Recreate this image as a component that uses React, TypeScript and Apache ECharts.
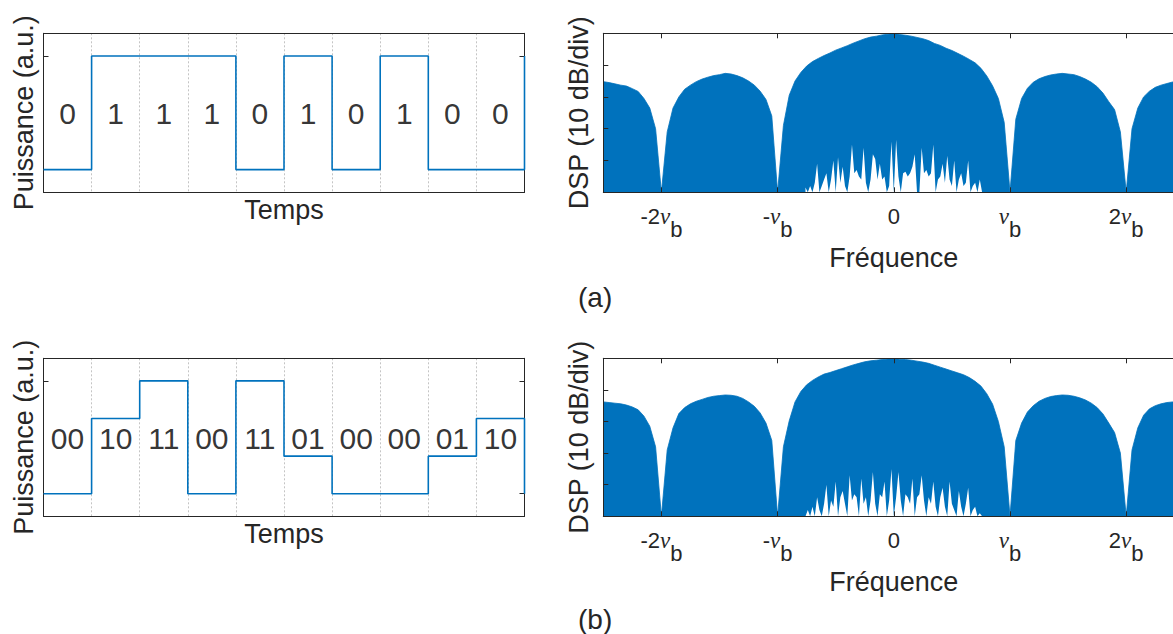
import React, { useEffect, useRef } from 'react';
import * as echarts from 'echarts';

// ---------- data ----------
// (a) OOK: bits and the power level of each bit slot (last entry = next symbol at the right border)
const BITS_A = ['0', '1', '1', '1', '0', '1', '0', '1', '0', '0'];
const LEVELS_A = [0, 1, 1, 1, 0, 1, 0, 1, 0, 0, 1];
// (b) PAM-4: symbols and levels (00=0, 01=1/3, 10=2/3, 11=1)
const SYMBOLS_B = ['00', '10', '11', '00', '11', '01', '00', '00', '01', '10'];
const LEVELS_B = [0, 0.667, 1, 0, 1, 0.333, 0, 0, 0.333, 0.667, 0];

// spectra (dB), upper envelope sampled every 0.05 nu_b from -2.5 nu_b
const FREQ_START = -2.5;
const FREQ_STEP = 0.05;
const UPPER_A = [
  -15.2, -15.5, -15.9, -16.3, -16.6, -17.4, -18.3, -20.5, -23.5, -30,
  -50, -31, -23.5, -20, -17.6, -16.3, -15.2, -14.4, -13.8, -13.3,
  -13.0, -12.6, -12.8, -13.3, -14.0, -15.0, -16.3, -18.2, -20.8, -26,
  -50, -29, -19.5, -15, -12.3, -10.3, -8.9, -7.9, -7.0, -6.2,
  -5.3, -4.6, -3.9, -3.1, -2.4, -1.7, -1.2, -0.9, -0.5, -0.3,
  -0.1, -0.4, -0.6, -0.9, -1.3, -1.7, -2.3, -3.2, -3.8, -4.7,
  -5.4, -6.3, -7.2, -8.2, -9.3, -11.0, -13.4, -16.5, -20.5, -28,
  -50, -27, -20.5, -17.3, -15.4, -14.3, -13.6, -13.1, -12.8, -12.6,
  -12.8, -13.0, -13.6, -14.4, -15.4, -16.8, -18.8, -21.5, -24, -31,
  -50, -30, -23.5, -20, -18.2, -17, -16.3, -15.8, -15.3, -15.1,
  -15.0,
];
const UPPER_B = [
  -13.8, -14.0, -14.2, -14.4, -14.8, -15.4, -16.3, -18.3, -21.5, -28,
  -50, -29, -22, -17.5, -15.6, -14.4, -13.6, -13.0, -12.4, -12.0,
  -11.8, -11.6, -11.7, -12.0, -12.7, -13.8, -15.2, -17.3, -20.5, -26,
  -50, -28, -19.8, -13.8, -10.5, -8.4, -7.0, -5.9, -5.0, -4.5,
  -3.9, -3.3, -2.7, -2.1, -1.6, -1.1, -0.8, -0.6, -0.4, -0.2,
  0, -0.3, -0.4, -0.6, -0.9, -1.2, -1.6, -2.2, -2.8, -3.4,
  -4.0, -4.6, -5.2, -6.1, -7.3, -8.8, -11.2, -14.5, -20, -28,
  -50, -26, -20.5, -17, -15, -13.6, -12.7, -12.1, -11.8, -11.6,
  -11.7, -12.0, -12.5, -13.2, -14.2, -15.6, -17.6, -20.5, -23.5, -30,
  -50, -29, -22, -18, -16, -15, -14.4, -14.0, -13.8, -13.6,
  -13.5,
];
// lower envelope (noise floor "grass") around the carrier, every 0.02 nu_b from -0.76 nu_b
const GRASS_START = -0.76;
const GRASS_STEP = 0.02;
const LOWER_A = [
  -48.5, -50, -48, -50, -47, -41, -50, -48, -46, -44,
  -50, -46, -40, -50, -39, -47, -42, -48, -50, -45,
  -35, -44, -43, -45, -46, -36, -47, -50, -46, -38,
  -39.5, -46, -41, -46, -45, -50, -48, -34, -50, -33.5,
  -45, -50, -44, -43.5, -45, -44, -42, -38, -50, -50,
  -36, -44, -43, -45, -44, -35, -50, -46, -45, -41,
  -47, -38.5, -46, -48, -40, -50, -46, -44, -48, -47,
  -40, -50, -48, -47, -50, -46, -50,
];
const LOWER_B = [
  -50, -48, -50, -47, -50, -44, -48, -50, -46, -40,
  -50, -45, -47, -39, -50, -44, -42, -46, -50, -37,
  -45, -43, -44, -50, -38, -46, -44, -50, -45, -36,
  -46, -50, -43, -44, -39, -50, -45, -35, -50, -44,
  -36, -45, -50, -43, -44, -46, -38, -50, -44, -43,
  -37, -45, -50, -44, -46, -39, -47, -50, -44, -41,
  -47, -50, -39, -46, -48, -50, -42, -47, -50, -46,
  -41, -50, -48, -47, -50, -49, -50,
];
const FREQ_TICKS = [-2, -1, 0, 1, 2];
const FREQ_TICK_LABELS = ['-2νb', '-νb', '0', 'νb', '2νb'];
const LEVEL_TICKS = [0, 1];

// ---------- style / layout ----------
const FONT = '"Liberation Sans", Arial, Helvetica, sans-serif';
const SERIF = '"Liberation Serif", "DejaVu Serif", serif';
const BLUE = '#0072BD';
const AXIS = '#262626';
const GRIDC = '#c4c4c4';
const LEFT_L = 43.5, LEFT_W = 481;
const RIGHT_L = 603.3, RIGHT_W = 581;
const TOP_T = 33.3, TOP_H = 159;
const BOT_T = 358.3, BOT_H = 158;
const LABEL_Y = 0.49;

function freqLabel(v: number): string {
  const idx = FREQ_TICKS.indexOf(Math.round(v));
  const s = idx >= 0 ? FREQ_TICK_LABELS[idx] : '';
  if (s.indexOf('ν') < 0) return `{m|${s}}`;
  const [pre, post] = s.split('ν');
  return (pre ? `{m|${pre}}` : '') + '{nu|ν}' + (post ? `{s|${post}}` : '');
}

function buildOption() {
  const line = { show: true, onZero: false, lineStyle: { color: AXIS, width: 1 } };
  const nameStyle = { fontSize: 27, fontFamily: FONT, color: AXIS };
  const grid: any[] = [];
  const xAxis: any[] = [];
  const yAxis: any[] = [];
  const series: any[] = [];

  const addTimePanel = (top: number, height: number, levels: number[], labels: string[]) => {
    const gi = grid.length;
    grid.push({ left: LEFT_L, top, width: LEFT_W, height, containLabel: false, outerBoundsMode: 'none' });
    const xi = xAxis.length;
    xAxis.push({
      gridIndex: gi, type: 'value', min: 0, max: 10, interval: 1, position: 'bottom',
      axisLine: line, axisTick: { show: false }, axisLabel: { show: false },
      splitLine: { show: true, lineStyle: { color: GRIDC, type: [2, 2], width: 1 } },
      name: 'Temps', nameLocation: 'middle', nameGap: 4.5, nameTextStyle: nameStyle, nameMoveOverlap: false,
    });
    xAxis.push({
      gridIndex: gi, type: 'value', min: 0, max: 10, position: 'top',
      axisLine: line, axisTick: { show: false }, axisLabel: { show: false }, splitLine: { show: false },
    });
    const yi = yAxis.length;
    const yCommon = {
      gridIndex: gi, type: 'value', min: -0.2, max: 1.2,
      axisLine: line,
      axisTick: { show: true, inside: true, length: 5, customValues: LEVEL_TICKS, lineStyle: { color: AXIS } },
      axisLabel: { show: false }, splitLine: { show: false },
    };
    yAxis.push({
      ...yCommon, position: 'left',
      name: 'Puissance (a.u.)', nameLocation: 'middle', nameRotate: 90, nameGap: 6.4,
      nameTextStyle: nameStyle, nameMoveOverlap: false,
    });
    yAxis.push({ ...yCommon, position: 'right' });
    series.push({
      type: 'line', xAxisIndex: xi, yAxisIndex: yi, step: 'end', symbol: 'none', silent: true,
      data: levels.map((v, i) => [i, v]),
      lineStyle: { color: BLUE, width: 1.6 },
    });
    series.push({
      type: 'scatter', xAxisIndex: xi, yAxisIndex: yi, symbolSize: 1, silent: true,
      itemStyle: { color: 'rgba(0,0,0,0)' },
      label: { show: true, position: 'inside', formatter: (p: any) => p.name, fontSize: 30, fontFamily: FONT, color: '#000' },
      data: labels.map((b, i) => ({ name: b, value: [i + 0.5, LABEL_Y] })),
    });
  };

  const addFreqPanel = (top: number, height: number, upper: number[], lower: number[]) => {
    const gi = grid.length;
    grid.push({ left: RIGHT_L, top, width: RIGHT_W, height, containLabel: false, outerBoundsMode: 'none' });
    const xi = xAxis.length;
    const tick = { show: true, inside: true, length: 5, customValues: FREQ_TICKS, lineStyle: { color: AXIS } };
    xAxis.push({
      gridIndex: gi, type: 'value', min: -2.5, max: 2.5, position: 'bottom', z: 10,
      axisLine: line, axisTick: tick,
      axisLabel: {
        show: true, customValues: FREQ_TICKS, margin: 13, formatter: freqLabel,
        verticalAlign: 'top',
        rich: {
          m: { fontSize: 22, fontFamily: FONT, color: AXIS, height: 22, lineHeight: 35, padding: [0, 0, 13, 0] },
          nu: { fontSize: 23, fontFamily: SERIF, fontStyle: 'italic', color: AXIS, height: 22, lineHeight: 35, padding: [0, 0, 13, 0] },
          s: { fontSize: 22, fontFamily: FONT, color: AXIS, height: 22, lineHeight: 35, padding: [13, 0, 0, 0] },
        },
      },
      splitLine: { show: false },
      name: 'Fréquence', nameLocation: 'middle', nameGap: 52, nameTextStyle: nameStyle, nameMoveOverlap: false,
    });
    xAxis.push({
      gridIndex: gi, type: 'value', min: -2.5, max: 2.5, position: 'top', z: 10,
      axisLine: line, axisTick: tick, axisLabel: { show: false }, splitLine: { show: false },
    });
    const yi = yAxis.length;
    const yCommon = {
      gridIndex: gi, type: 'value', min: -50, max: 0, interval: 10, z: 10,
      axisLine: line,
      axisTick: { show: true, inside: true, length: 5, lineStyle: { color: AXIS } },
      axisLabel: { show: false }, splitLine: { show: false },
    };
    yAxis.push({
      ...yCommon, position: 'left',
      name: 'DSP (10 dB/div)', nameLocation: 'middle', nameRotate: 90, nameGap: 11,
      nameTextStyle: nameStyle, nameMoveOverlap: false,
    });
    yAxis.push({ ...yCommon, position: 'right' });
    series.push({
      type: 'line', xAxisIndex: xi, yAxisIndex: yi, symbol: 'none', silent: true, z: 2,
      data: upper.map((v, i) => [FREQ_START + i * FREQ_STEP, v]),
      lineStyle: { color: BLUE, width: 0.8 },
      areaStyle: { color: BLUE, opacity: 1, origin: 'start' },
    });
    series.push({
      type: 'line', xAxisIndex: xi, yAxisIndex: yi, symbol: 'none', silent: true, z: 3,
      data: lower.map((v, i) => [GRASS_START + i * GRASS_STEP, v]),
      lineStyle: { width: 0, color: '#ffffff' },
      areaStyle: { color: '#ffffff', opacity: 1, origin: 'start' },
    });
  };

  addTimePanel(TOP_T, TOP_H, LEVELS_A, BITS_A);
  addFreqPanel(TOP_T, TOP_H, UPPER_A, LOWER_A);
  addTimePanel(BOT_T, BOT_H, LEVELS_B, SYMBOLS_B);
  addFreqPanel(BOT_T, BOT_H, UPPER_B, LOWER_B);

  return {
    animation: false,
    backgroundColor: '#ffffff',
    textStyle: { fontFamily: FONT },
    grid, xAxis, yAxis, series,
    graphic: [
      { type: 'text', left: 578, top: 283, style: { text: '(a)', fontSize: 28, fontFamily: FONT, fill: AXIS } },
      { type: 'text', left: 578, top: 605, style: { text: '(b)', fontSize: 28, fontFamily: FONT, fill: AXIS } },
    ],
  };
}

export default function App() {
  const ref = useRef<HTMLDivElement>(null);
  useEffect(() => {
    if (!ref.current) return;
    const chart = echarts.init(ref.current, null, { renderer: 'svg' });
    chart.setOption(buildOption() as any);
    return () => chart.dispose();
  }, []);
  return (
    <div
      ref={ref}
      style={{ position: 'absolute', left: 0, top: 0, width: 1173, height: 634, background: '#fff' }}
    />
  );
}
